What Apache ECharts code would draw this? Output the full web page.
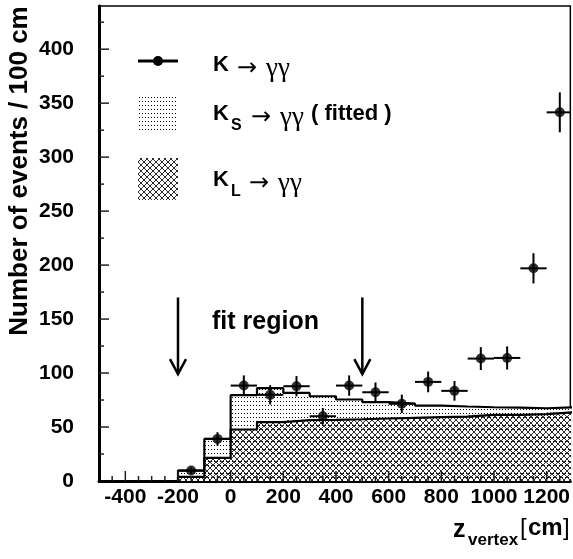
<!DOCTYPE html>
<html>
<head>
<meta charset="utf-8">
<script src="https://cdn.jsdelivr.net/npm/echarts@6/dist/echarts.min.js"></script>
<style>
	html, body { margin: 0; padding: 0; background: #fff; }
	#chart { width: 573px; height: 559px; }
</style>
</head>
<body>
<div id="chart"></div>
<script type="text/javascript">
	// histogram bins (left edge, 100 cm wide)
	var binLeft = [-200, -100, 0, 100, 200, 300, 400, 500, 600, 700, 800, 900, 1000, 1100, 1200];
	var binWidth = 100;
	// fitted K_S + K_L (stacked total) and K_L alone
	var totalFit = [9.7, 39, 79.5, 86, 81.6, 78.5, 75.5, 73, 71.8, 69.9, 69, 68.3, 68, 67.4, 68.3];
	var klFit = [3.9, 21.5, 47.7, 54.5, 56.3, 56.6, 57.2, 57.9, 58.5, 59.1, 59.7, 61.3, 61.3, 61.9, 63.7];
	// measured K -> gamma gamma
	var dataX = [-150, -50, 50, 150, 250, 350, 450, 550, 650, 750, 850, 950, 1050, 1150, 1250];
	var dataY = [9.7, 39, 88.4, 79.8, 87.8, 60, 88.4, 82.2, 71.5, 91.8, 83.5, 113.4, 114, 197, 341.5];
	var dataErr = [3.1, 6.2, 9.4, 8.9, 9.4, 7.7, 9.4, 9.1, 8.5, 9.6, 9.1, 10.6, 10.7, 14, 18.5];
	// axis labels
	var xLabels = [-400, -200, 0, 200, 400, 600, 800, 1000, 1200];
	var yLabels = [0, 50, 100, 150, 200, 250, 300, 350, 400];
	// fit region arrows
	var arrowX = [-200, 500];
	var arrowTop = 170, arrowBottom = 99;

	// fill patterns
	function dotPattern() {
		var c = document.createElement('canvas');
		c.width = 3; c.height = 4;
		var ctx = c.getContext('2d');
		ctx.fillStyle = '#fff';
		ctx.fillRect(0, 0, 3, 4);
		ctx.fillStyle = '#000';
		ctx.fillRect(1, 1, 1, 1);
		return c;
	}
	function hatchPattern() {
		var c = document.createElement('canvas');
		c.width = 6; c.height = 6;
		var ctx = c.getContext('2d');
		ctx.fillStyle = '#2a2a2a';
		for (var i = 0; i < 6; i++) {
			ctx.fillRect(i, i, 1, 1);
			ctx.fillRect(5 - i, i, 1, 1);
		}
		return c;
	}
	var dots = { image: dotPattern(), repeat: 'repeat' };
	var hatch = { image: hatchPattern(), repeat: 'repeat' };

	function stepLine(vals) {
		var pts = [[binLeft[0], 0]];
		for (var i = 0; i < binLeft.length; i++) pts.push([binLeft[i], vals[i]]);
		pts.push([binLeft[binLeft.length - 1] + binWidth, vals[vals.length - 1]]);
		return pts;
	}
	function rectItem(pattern) {
		return function(params, api) {
			var p0 = api.coord([api.value(0), api.value(2)]);
			var p1 = api.coord([api.value(1), 0]);
			return {
				type: 'rect',
				shape: { x: p0[0], y: p0[1], width: p1[0] - p0[0], height: p1[1] - p0[1] },
				style: { fill: pattern }
			};
		};
	}

	// ticks
	var xMajor = [], xMinor = [], yMajor = [], yMinor = [];
	for (var t = -450; t < 1290; t += 50) (t % 200 === 0 ? xMajor : xMinor).push(t);
	for (var t = 25; t < 440; t += 25) (t % 50 === 0 ? yMajor : yMinor).push(t);
	var tickData = [];
	xMajor.forEach(function(v) { tickData.push([v, 0, 10, 0]); });
	xMinor.forEach(function(v) { tickData.push([v, 0, 5, 0]); });
	yMajor.forEach(function(v) { tickData.push([-500, v, 10, 1]); });
	yMinor.forEach(function(v) { tickData.push([-500, v, 5, 1]); });

	var chart = echarts.init(document.getElementById('chart'));
	var font = 'Liberation Sans, Arial, sans-serif';

	var option = {
		animation: false,
		grid: { left: 99, right: 1, top: 6, bottom: 78, show: true, borderColor: '#000', borderWidth: 1.5 },
		xAxis: {
			type: 'value', min: -500, max: 1290, interval: 100,
			axisLine: { show: true, onZero: false, lineStyle: { color: '#000', width: 3 } },
			axisTick: { show: false },
			splitLine: { show: false },
			axisLabel: {
				margin: 6, color: '#000', fontFamily: font, fontWeight: 'bold', fontSize: 21,
				showMaxLabel: false, showMinLabel: false,
				formatter: function(v) { return xLabels.indexOf(v) >= 0 ? String(v) : ''; }
			}
		},
		yAxis: {
			type: 'value', min: 0, max: 440, interval: 50,
			axisLine: { show: true, onZero: false, lineStyle: { color: '#000', width: 3 } },
			axisTick: { show: false },
			splitLine: { show: false },
			axisLabel: {
				margin: 25, color: '#000', fontFamily: font, fontWeight: 'bold', fontSize: 21,
				showMaxLabel: false,
				formatter: function(v) { return yLabels.indexOf(v) >= 0 ? String(v) : ''; }
			}
		},
		series: [
			{ // K_S + K_L total, dotted
				type: 'custom', clip: true, silent: true, z: 1,
				data: binLeft.map(function(x, i) { return [x, x + binWidth, totalFit[i]]; }),
				renderItem: rectItem(dots)
			},
			{ // K_L, cross hatched
				type: 'custom', clip: true, silent: true, z: 2,
				data: binLeft.map(function(x, i) { return [x, x + binWidth, klFit[i]]; }),
				renderItem: rectItem(hatch)
			},
			{
				type: 'line', step: 'end', showSymbol: false, silent: true, clip: true, z: 3,
				lineStyle: { color: '#000', width: 2.2 },
				data: stepLine(totalFit)
			},
			{
				type: 'line', step: 'end', showSymbol: false, silent: true, clip: true, z: 3,
				lineStyle: { color: '#000', width: 2.2 },
				data: stepLine(klFit)
			},
			{ // error bars
				type: 'custom', silent: true, z: 4,
				data: dataX.map(function(x, i) { return [x, dataY[i], dataErr[i]]; }),
				renderItem: function(params, api) {
					var x = api.value(0), y = api.value(1), e = api.value(2);
					var a = api.coord([x - binWidth / 2, y]), b = api.coord([Math.min(x + binWidth / 2, 1290), y]);
					var c = api.coord([x, y - e]), d = api.coord([x, y + e]);
					var st = { stroke: '#000', lineWidth: 2 };
					return {
						type: 'group',
						children: [
							{ type: 'line', shape: { x1: a[0], y1: a[1], x2: b[0], y2: b[1] }, style: st },
							{ type: 'line', shape: { x1: c[0], y1: c[1], x2: d[0], y2: d[1] }, style: st }
						]
					};
				}
			},
			{
				type: 'scatter', symbol: 'circle', symbolSize: 10, silent: true, z: 5,
				itemStyle: { color: '#000' },
				data: dataX.map(function(x, i) { return [x, dataY[i]]; })
			},
			{ // fit region arrows
				type: 'custom', silent: true, z: 5,
				data: arrowX.map(function(x) { return [x, arrowTop, arrowBottom]; }),
				renderItem: function(params, api) {
					var p = api.coord([api.value(0), api.value(1)]);
					var q = api.coord([api.value(0), api.value(2)]);
					var st = { stroke: '#000', lineWidth: 2.5, fill: null };
					return {
						type: 'group',
						children: [
							{ type: 'line', shape: { x1: p[0], y1: p[1], x2: q[0], y2: q[1] }, style: st },
							{ type: 'polyline', shape: { points: [[q[0] - 8, q[1] - 15], [q[0], q[1]], [q[0] + 8, q[1] - 15]] }, style: st }
						]
					};
				}
			},
			{ // axis ticks, pointing inward
				type: 'custom', silent: true, z: 6,
				data: tickData,
				renderItem: function(params, api) {
					var p = api.coord([api.value(0), api.value(1)]);
					var len = api.value(2);
					var isY = api.value(3) === 1;
					return {
						type: 'line',
						shape: isY ? { x1: p[0], y1: p[1], x2: p[0] + len, y2: p[1] } : { x1: p[0], y1: p[1], x2: p[0], y2: p[1] - len },
						style: { stroke: '#222', lineWidth: 1.5 }
					};
				}
			}
		],
		graphic: [
			// y title
			{ type: 'text', x: 20, y: 171, rotation: Math.PI / 2, style: { text: 'Number of events / 100 cm', font: 'bold 26px ' + font, fill: '#000', align: 'center', verticalAlign: 'middle' } },
			// x title
			{ type: 'text', x: 453, y: 530, style: { text: 'z', font: 'bold 25px ' + font, fill: '#000', verticalAlign: 'middle' } },
			{ type: 'text', x: 468, y: 540, style: { text: 'vertex', font: 'bold 17px ' + font, fill: '#000', verticalAlign: 'middle' } },
			{ type: 'text', x: 520, y: 528, style: { text: '[', font: '24px ' + font, fill: '#000', verticalAlign: 'middle' } },
			{ type: 'text', x: 528, y: 528, style: { text: 'cm', font: 'bold 24px ' + font, fill: '#000', verticalAlign: 'middle' } },
			{ type: 'text', x: 563, y: 528, style: { text: ']', font: '24px ' + font, fill: '#000', verticalAlign: 'middle' } },
			// fit region
			{ type: 'text', x: 212, y: 322, style: { text: 'fit region', font: 'bold 25px ' + font, fill: '#000', verticalAlign: 'middle' } },
			// legend: K -> gamma gamma
			{ type: 'line', shape: { x1: 138, y1: 61, x2: 178, y2: 61 }, style: { stroke: '#000', lineWidth: 3 } },
			{ type: 'circle', shape: { cx: 158, cy: 61, r: 5 }, style: { fill: '#000' } },
			{ type: 'text', x: 213, y: 65, style: { text: 'K', font: 'bold 22px ' + font, fill: '#000', verticalAlign: 'middle' } },
			{ type: 'text', x: 237, y: 69, style: { text: '\u2192', font: '24px DejaVu Sans', fill: '#000', verticalAlign: 'middle' } },
			{ type: 'text', x: 266, y: 69, style: { text: '\u03b3\u03b3', font: '27px Liberation Serif', fill: '#000', verticalAlign: 'middle' } },
			// legend: K_S
			{ type: 'rect', shape: { x: 138, y: 94, width: 40, height: 38 }, style: { fill: dots } },
			{ type: 'text', x: 213, y: 114, style: { text: 'K', font: 'bold 22px ' + font, fill: '#000', verticalAlign: 'middle' } },
			{ type: 'text', x: 231, y: 126, style: { text: 'S', font: 'bold 16px ' + font, fill: '#000', verticalAlign: 'middle' } },
			{ type: 'text', x: 251, y: 118, style: { text: '\u2192', font: '24px DejaVu Sans', fill: '#000', verticalAlign: 'middle' } },
			{ type: 'text', x: 280, y: 118, style: { text: '\u03b3\u03b3', font: '27px Liberation Serif', fill: '#000', verticalAlign: 'middle' } },
			{ type: 'text', x: 311, y: 114, style: { text: '( fitted )', font: 'bold 22px ' + font, fill: '#000', verticalAlign: 'middle' } },
			// legend: K_L
			{ type: 'rect', shape: { x: 138, y: 158, width: 40, height: 42 }, style: { fill: hatch } },
			{ type: 'text', x: 213, y: 180, style: { text: 'K', font: 'bold 22px ' + font, fill: '#000', verticalAlign: 'middle' } },
			{ type: 'text', x: 231, y: 192, style: { text: 'L', font: 'bold 16px ' + font, fill: '#000', verticalAlign: 'middle' } },
			{ type: 'text', x: 249, y: 184, style: { text: '\u2192', font: '24px DejaVu Sans', fill: '#000', verticalAlign: 'middle' } },
			{ type: 'text', x: 278, y: 184, style: { text: '\u03b3\u03b3', font: '27px Liberation Serif', fill: '#000', verticalAlign: 'middle' } }
		]
	};

	chart.setOption(option);
	window.onresize = chart.resize;
</script>
</body>
</html>
